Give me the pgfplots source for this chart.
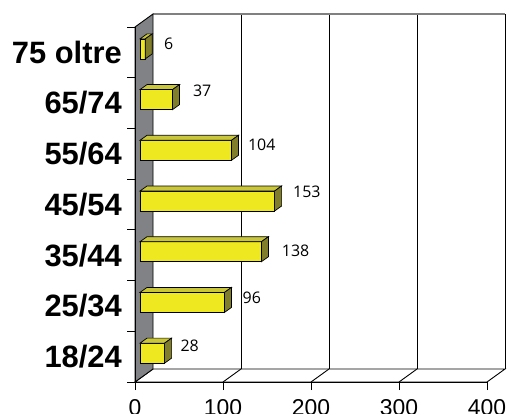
\documentclass[border=0pt]{standalone}
\usepackage{pgfplots}
\pgfplotsset{compat=1.18}
\usepackage{pgfplotstable}
\usepackage{fontspec}
\setmainfont{Liberation Sans}
\newfontfamily\valuefont{Open Sans}

\definecolor{barfront}{RGB}{237,232,32}
\definecolor{bartop}{RGB}{201,198,58}
\definecolor{barside}{RGB}{128,126,42}
\definecolor{wallgray}{RGB}{128,130,133}
\definecolor{rimgray}{RGB}{128,128,128}

% age class index, count, label offsets (bp)
\pgfplotstableread{
cat val lx ly
0 28 15.7 7
1 96 18 5
2 138 20.3 1.2
3 153 18.3 9.3
4 104 16.3 5.3
5 37 20.3 8.5
6 6 18.7 5.5
}\agedata

% top and right faces of a bar that ends at the mark; depth 7bp x 5bp
\pgfdeclareplotmark{barside3d}{%
  \pgfmathsetmacro\barlen{\barval*0.88}%
  \pgfsetlinewidth{0.7bp}%
  \pgfsetstrokecolor{black}%
  \pgfpathmoveto{\pgfpoint{-\barlen bp}{10bp}}%
  \pgfpathlineto{\pgfpoint{0bp}{10bp}}%
  \pgfpathlineto{\pgfpoint{7bp}{15bp}}%
  \pgfpathlineto{\pgfpoint{7bp-\barlen bp}{15bp}}%
  \pgfpathclose
  \pgfsetfillcolor{bartop}%
  \pgfusepath{fill,stroke}%
  \pgfpathmoveto{\pgfpoint{0bp}{-10bp}}%
  \pgfpathlineto{\pgfpoint{0bp}{10bp}}%
  \pgfpathlineto{\pgfpoint{7bp}{15bp}}%
  \pgfpathlineto{\pgfpoint{7bp}{-5bp}}%
  \pgfpathclose
  \pgfsetfillcolor{barside}%
  \pgfusepath{fill,stroke}%
}

\begin{document}
\begin{tikzpicture}
\useasboundingbox (0,0) rectangle (509bp,414bp);

% back wall, floor and side wall
\begin{axis}[
  at={(153bp,45bp)}, anchor=south west,
  width=352bp, height=355bp, scale only axis,
  xmin=0, xmax=400, ymin=-0.5, ymax=6.5,
  axis line style={draw=none},
  xtick={100,200,300}, ytick=\empty, xticklabels={},
  major tick length=0pt,
  xmajorgrids, grid style={black, line width=0.9bp},
  clip=false,
]
  \filldraw[fill=white, draw=black, line width=0.9bp]
    (axis cs:0,-0.5) -- (axis cs:400,-0.5)
    -- ([shift={(-18bp,-13bp)}]axis cs:400,-0.5)
    -- ([shift={(-18bp,-13bp)}]axis cs:0,-0.5) -- cycle;
  \pgfplotsinvokeforeach{100,200,300}{
    \draw[black, line width=0.9bp] (axis cs:#1,-0.5) -- ([shift={(-18bp,-13bp)}]axis cs:#1,-0.5);
  }
  \draw[black, line width=0.9bp] (axis cs:400,-0.5) -- (axis cs:400,6.5);
  \draw[rimgray, line width=2bp] (axis cs:0,6.5) -- (axis cs:400,6.5);
  \filldraw[fill=wallgray, draw=black, line width=0.9bp]
    (axis cs:0,-0.5) -- (axis cs:0,6.5)
    -- ([shift={(-18bp,-13bp)}]axis cs:0,6.5)
    -- ([shift={(-18bp,-13bp)}]axis cs:0,-0.5) -- cycle;
\end{axis}

% front plane: axes, ticks, bars
\begin{axis}[
  at={(135bp,32bp)}, anchor=south west,
  width=352bp, height=355bp, scale only axis,
  xmin=0, xmax=400, ymin=-0.5, ymax=6.5,
  axis x line=bottom, axis y line=left,
  axis line style={-, black, line width=0.9bp},
  tick align=outside, major tick length=8bp,
  tick style={black, line width=0.9bp},
  xtick={0,100,...,400}, xticklabels={0,100,200,300,400},
  xticklabel style={font=\fontsize{23}{26}\selectfont, anchor=north, inner sep=0pt,
    yshift=-9bp},
  ytick={-0.5,0.5,...,6.5}, yticklabels={},
  extra y ticks={0,1,2,3,4,5,6},
  extra y tick labels={18/24,25/34,35/44,45/54,55/64,65/74,75 oltre},
  extra y tick style={major tick length=0pt},
  yticklabel style={font=\bfseries\fontsize{31}{34}\selectfont, anchor=east, inner sep=0pt,
    xshift=-13bp},
  clip=false,
]
  \addplot[xbar, bar width=20bp, fill=barfront, draw=black, line width=0.7bp,
    xshift=5bp, yshift=3.5bp] table[x=val, y=cat] {\agedata};
  \addplot[only marks, mark=barside3d, xshift=5bp, yshift=3.5bp,
    visualization depends on={\thisrow{val} \as \barval},
  ] table[x=val, y=cat] {\agedata};
  % value labels, offset from the bar ends by lx, ly (bp)
  \addplot[draw=none, no markers, xshift=5bp, yshift=3.5bp,
    point meta=explicit symbolic,
    nodes near coords,
    every node near coord/.append style={font=\valuefont\fontsize{16}{18}\selectfont,
      anchor=west, inner sep=0pt, black},
  ] table[x expr=\thisrow{val}+\thisrow{lx}/0.88,
          y expr=\thisrow{cat}+\thisrow{ly}/50.714, meta=val] {\agedata};
\end{axis}
\end{tikzpicture}
\end{document}
